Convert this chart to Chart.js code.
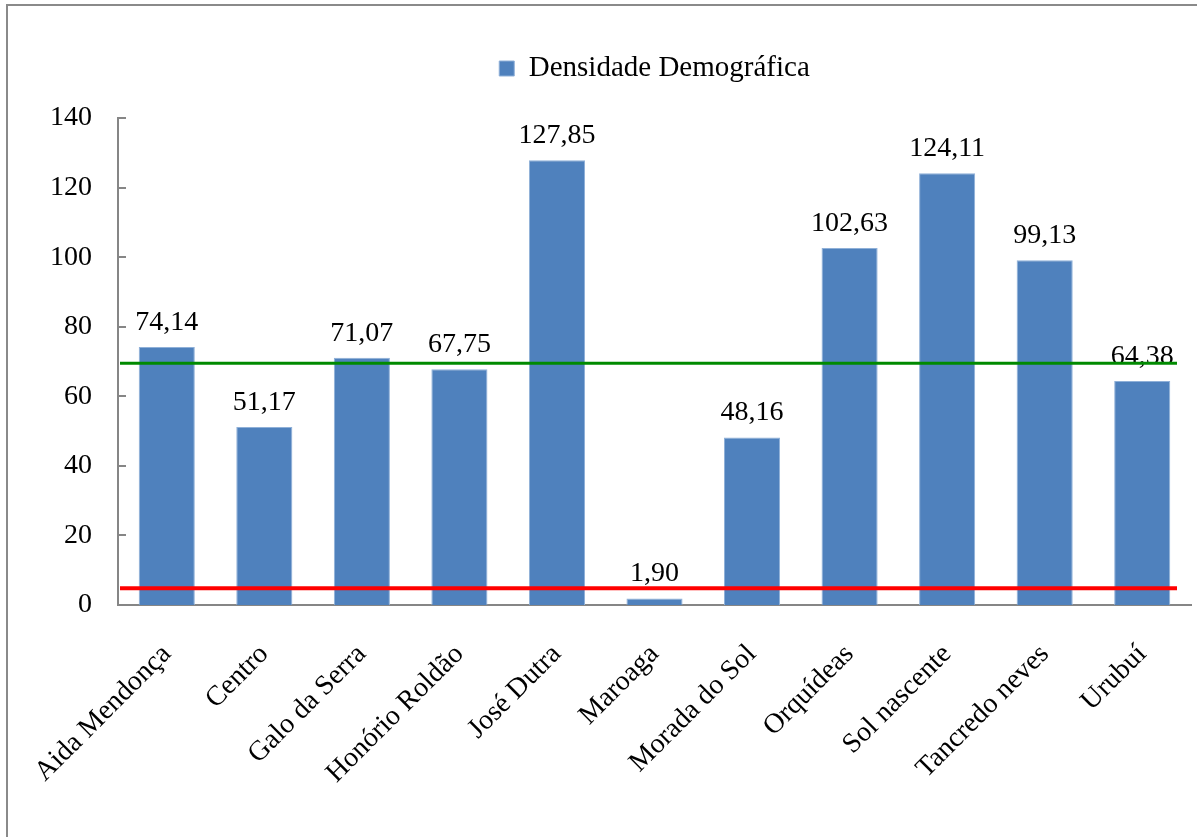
<html>
<head>
  <meta charset="utf-8">
  <script src="https://cdn.jsdelivr.net/npm/chart.js"></script>
  <title>Densidade Demográfica</title>
  <style>
    body {
      margin: 0;
      background: #fff;
      overflow: hidden;
    }
    .frame {
      position: absolute;
      left: 6px;
      top: 4px;
      width: 1300px;
      height: 900px;
      border-left: 2px solid #8a8a8a;
      border-top: 2px solid #8a8a8a;
    }
    .chart-wrapper {
      position: absolute;
      left: 0;
      top: 0;
      width: 1197px;
      height: 837px;
    }
  </style>
</head>
<body>
<div class="frame"></div>
<div class="chart-wrapper">
  <canvas id="chart-1"></canvas>
</div>

<script>
  const bairros = ["Aida Mendonça", "Centro", "Galo da Serra", "Honório Roldão", "José Dutra",
    "Maroaga", "Morada do Sol", "Orquídeas", "Sol nascente", "Tancredo neves", "Urubuí"];
  const densidade = [74.14, 51.17, 71.07, 67.75, 127.85, 1.90, 48.16, 102.63, 124.11, 99.13, 64.38];

  // y axis: 0..140, step 20
  const yMin = 0;
  const yMax = 140;
  const yStep = 20;

  // horizontal reference lines (green and red)
  const refLineValues = [69.5, 4.8];
  const refLineColors = ["#008a00", "#ff0000"];

  const fontFamily = "'Liberation Serif', 'Times New Roman', serif";

  // value labels above the bars, with comma decimals
  const valueLabels = {
    id: 'valueLabels',
    afterDatasetsDraw(chart) {
      const ctx = chart.ctx;
      const meta = chart.getDatasetMeta(0);
      ctx.save();
      ctx.font = "28px " + fontFamily;
      ctx.fillStyle = "#000";
      ctx.textAlign = "center";
      ctx.textBaseline = "alphabetic";
      meta.data.forEach((bar, i) => {
        const txt = densidade[i].toFixed(2).replace(".", ",");
        ctx.fillText(txt, bar.x, bar.y - 17);
      });
      ctx.restore();
    }
  };

  // extra room under the legend
  const legendGap = {
    id: 'legendGap',
    beforeLayout(chart) {
      const lg = chart.legend;
      if (lg && !lg._gapPatched) {
        const fit = lg.fit;
        lg.fit = function () {
          fit.call(this);
          this.height += 25;
        };
        lg._gapPatched = true;
      }
    }
  };

  // inward tick marks on y axis + the two reference lines
  const extras = {
    id: 'extras',
    afterDraw(chart) {
      const ctx = chart.ctx;
      const y = chart.scales.y;
      const area = chart.chartArea;
      ctx.save();
      ctx.strokeStyle = "#868686";
      ctx.lineWidth = 2;
      y.ticks.forEach(t => {
        const py = Math.round(y.getPixelForValue(t.value));
        ctx.beginPath();
        ctx.moveTo(area.left, py);
        ctx.lineTo(area.left + 8, py);
        ctx.stroke();
      });
      refLineValues.forEach((v, i) => {
        const py = y.getPixelForValue(v);
        ctx.strokeStyle = refLineColors[i];
        ctx.lineWidth = i === 0 ? 3 : 4;
        ctx.beginPath();
        ctx.moveTo(area.left + 2, py);
        ctx.lineTo(area.right - 14, py);
        ctx.stroke();
      });
      ctx.restore();
    }
  };

  const config = {
    type: 'bar',
    data: {
      labels: bairros,
      datasets: [{
        label: "Densidade Demográfica",
        data: densidade,
        backgroundColor: "#4f81bd",
        borderColor: "#8fb0d8",
        borderWidth: 1,
        categoryPercentage: 0.575,
        barPercentage: 1
      }]
    },
    options: {
      responsive: true,
      maintainAspectRatio: false,
      animation: false,
      devicePixelRatio: 1,
      layout: {
        padding: { left: 0, right: 6, top: 17, bottom: 0 }
      },
      scales: {
        x: {
          grid: { display: false, drawTicks: false },
          border: { display: true, color: "#868686", width: 2 },
          ticks: {
            color: "#000",
            font: { family: fontFamily, size: 28 },
            minRotation: 45,
            maxRotation: 45,
            autoSkip: false,
            padding: 33
          },
          afterFit: s => { s.height = 232; s.paddingLeft = 0; s.paddingRight = 0; }
        },
        y: {
          min: yMin,
          max: yMax,
          grid: { display: false, drawTicks: false },
          border: { display: true, color: "#868686", width: 2 },
          ticks: {
            stepSize: yStep,
            color: "#000",
            font: { family: fontFamily, size: 28 },
            padding: 26
          },
          afterFit: s => { s.width = 118; s.paddingTop = 117; }
        }
      },
      plugins: {
        legend: {
          position: 'top',
          fullSize: false,
          labels: {
            color: "#000",
            font: { family: fontFamily, size: 29 },
            boxWidth: 15,
            boxHeight: 15,
            padding: 37
          }
        },
        tooltip: { enabled: false }
      }
    },
    plugins: [legendGap, valueLabels, extras]
  };

  const chart = new Chart(document.getElementById('chart-1'), config);
</script>
</body>
</html>
